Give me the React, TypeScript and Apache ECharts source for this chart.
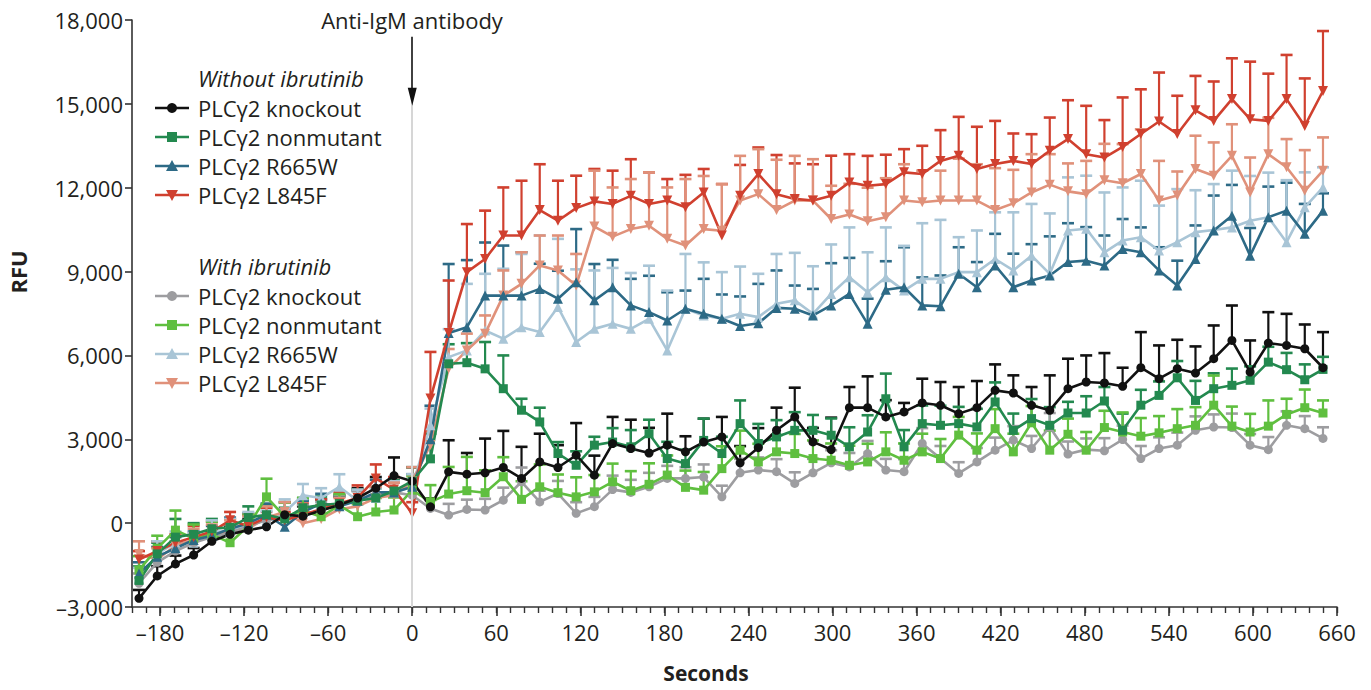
import React, { useEffect, useRef } from "react";
import * as echarts from "echarts";

// time after stimulation (seconds)
const SECONDS = [-195,-182,-169,-156,-143,-130,-117,-104,-91,-78,-65,-52,-39,-26,-13,0,13,26,39,52,65,78,91,104,117,130,143,156,169,182,195,208,221,234,247,260,273,286,299,312,325,338,351,364,377,390,403,416,429,442,455,468,481,494,507,520,533,546,559,572,585,598,611,624,637,650];

const X_TICKS = [-180,-120,-60,0,60,120,180,240,300,360,420,480,540,600,660];
const Y_TICKS = [-3000,0,3000,6000,9000,12000,15000,18000];

// Without ibrutinib
const KO_WITHOUT = [-2690,-1890,-1460,-1140,-650,-400,-250,-130,300,250,450,650,900,1250,1700,1500,
585,1835,1750,1800,1990,1600,2190,1990,2430,1715,2846,2670,2510,2790,2550,2900,3085,2157,2700,3323,3800,2907,2633,4132,4132,3800,3978,4300,4216,3918,4132,4751,4656,4216,4037,4810,5049,5013,4894,5560,5168,5525,5370,5882,6536,5406,6441,6358,6239,5560];
const KO_WITHOUT_ERR = [300,350,300,250,350,300,400,300,450,350,400,300,350,400,650,500,
300,1130,760,1225,1310,1130,1010,800,1150,700,954,1030,900,1127,558,838,715,600,700,809,1046,500,1142,738,1119,600,322,867,833,952,952,928,631,654,1250,1072,951,1071,666,1274,1190,1035,952,1190,1250,1130,1107,1130,868,1274];

const NM_WITHOUT = [-2050,-1100,-500,-400,-200,-150,200,300,150,550,650,700,800,900,1150,1500,
2300,5700,5740,5520,4810,4040,3620,2490,2070,2790,2900,2730,3200,2310,2130,2960,2490,3560,2850,3085,3320,3320,3145,2730,3260,4450,2730,3560,3500,3560,3440,4335,3320,3740,3500,3940,3940,4370,3320,4220,4570,5200,4390,4810,4930,5110,5760,5490,5130,5500];
const NM_WITHOUT_ERR = [500,400,650,400,350,300,400,350,400,350,300,300,400,350,400,500,
900,700,700,960,1190,410,510,410,500,300,500,600,500,600,500,780,600,830,700,600,650,550,600,700,600,900,600,650,700,600,650,700,600,700,650,400,600,500,600,550,500,600,700,550,600,500,550,600,550,450];

const R665W_WITHOUT = [-1800,-1200,-900,-600,-450,-200,0,300,-130,400,700,600,800,1100,1100,1300,
3000,6800,7010,8140,8140,8140,8380,8030,8620,7970,8440,7790,7550,7250,7670,7490,7310,7050,7150,7700,7670,7430,7790,8200,7130,8350,8440,7790,7760,8920,8440,9220,8440,8680,8860,9340,9390,9220,9810,9690,9040,8500,9450,10470,11000,9570,10940,11180,10350,11180];
const R665W_WITHOUT_ERR = [400,350,400,300,350,400,350,400,450,400,350,400,350,450,400,450,
1200,2470,2400,1900,1790,1550,900,1000,1900,1300,980,950,1300,1010,650,1250,870,1060,1410,1340,830,950,1510,1290,900,1020,1430,1000,1100,950,900,1130,1200,1300,1400,1390,1200,1070,1070,890,830,890,1200,1250,1100,990,1100,1000,1070,620];

const L845F_WITHOUT = [-1300,-1000,-700,-500,-300,100,-100,200,100,300,500,700,900,1600,1200,350,
4455,6800,8980,9450,10290,10290,11200,10820,11270,11510,11420,11710,11420,11540,11300,11830,10290,11715,12490,11770,11600,11540,11715,12190,12070,12130,12550,12490,12960,13140,12670,12850,12960,12845,13320,13740,13200,13080,13460,13920,14370,13920,14770,14390,15170,14450,14390,15170,14210,15460];
const L845F_WITHOUT_ERR = [300,350,300,400,350,300,400,350,300,400,350,400,450,500,450,400,
1670,1880,1720,1730,1720,1960,1640,1430,1160,1160,1190,1310,1130,770,1160,840,1840,1100,950,1400,1270,1300,1430,1010,1070,1050,830,1010,1100,1395,1510,1540,980,1070,1190,1390,1730,1340,1770,1600,1750,1370,1230,1410,1460,2060,1690,1580,1700,2145];

// With ibrutinib
const KO_WITH = [-2150,-1400,-1000,-700,-500,-350,-100,100,200,300,450,700,800,1000,1100,1000,
525,290,490,470,820,1480,760,1060,350,590,1200,1100,1300,1600,1600,1650,940,1800,1900,1840,1420,1800,2160,2010,2490,1900,1840,2850,2310,1780,2190,2610,2970,2670,3440,2470,2630,2590,2990,2310,2670,2790,3320,3440,3420,2790,2630,3500,3380,3030];
const KO_WITH_ERR = [350,300,350,300,250,300,350,300,300,350,300,300,350,300,350,400,
300,400,350,400,450,510,400,450,400,350,500,450,500,450,400,450,400,500,450,450,400,500,450,500,450,400,450,550,450,400,500,450,500,450,500,450,400,450,500,450,400,450,500,450,500,400,450,500,450,400];

const NM_WITH = [-1680,-900,-250,-550,-400,-700,-100,940,230,450,230,640,230,400,470,1180,
760,1040,1160,1090,1660,850,1300,1090,940,1120,1480,1160,1390,1720,1280,1180,1950,2610,2190,2550,2490,2310,2250,2070,2190,2550,2250,2550,2310,3150,2610,3380,2550,3590,2610,3180,2610,3420,3260,3110,3230,3380,3500,4220,3470,3260,3470,3890,4130,3940];
const NM_WITH_ERR = [500,450,700,500,450,500,400,650,500,450,400,400,450,500,450,500,
600,970,1210,800,700,650,800,650,700,600,650,700,750,700,600,650,800,700,650,600,700,650,600,700,650,700,600,650,700,650,600,700,650,600,700,560,650,600,700,650,600,700,650,1060,700,650,920,560,650,450];

const R665W_WITH = [-2000,-1100,-700,-700,-300,-300,0,100,400,1000,900,1300,800,900,1100,1300,
3500,5940,6180,6890,6600,7010,6840,7730,6480,6950,7130,6950,7310,6180,7670,7430,7310,7490,7370,7850,7970,7490,8200,8800,8260,8800,8320,8740,8740,8980,8980,9450,9040,9570,8920,10470,10530,9690,10110,10230,9750,10050,10410,10490,10580,10820,10940,10050,11300,12010];
const R665W_WITH_ERR = [400,450,400,350,400,450,400,350,450,400,350,450,400,350,400,450,
600,1000,2380,2030,2500,2620,3450,2440,2600,2090,2000,2000,1900,2140,1960,1900,1670,1690,1550,1780,1700,1700,1770,1780,1430,1780,1600,1990,2110,1250,1490,1670,2080,1850,2160,1900,1900,2140,1900,2020,1610,1900,1500,1640,2030,1600,1600,2220,1250,720];

const L845F_WITH = [-1100,-1300,-800,-600,-400,-300,-200,200,400,0,150,500,600,900,1000,1500,
2800,5530,6180,6780,8140,8560,9220,9040,8500,10610,10250,10520,10640,10170,9930,10520,10460,11540,11770,11200,11540,11540,10880,11040,10800,10940,11540,11480,11540,11540,11540,11200,11440,11830,12110,11870,11770,12270,12160,12490,11540,11720,12670,12430,13140,11830,13200,12730,11890,12610];
const L845F_WITH_ERR = [450,400,350,400,350,400,450,400,350,400,450,400,350,400,450,500,
500,700,600,650,900,1130,1070,1250,1130,2000,1760,1790,1910,1840,2380,1900,1670,1600,1610,1800,1600,1480,1190,1100,1200,1400,1300,1130,1070,1500,1300,1500,1200,1370,1090,1000,1190,1300,1400,1600,1420,860,1190,1190,1130,1250,1300,1010,1455,1190];

const FONT = '"Open Sans", "DejaVu Sans", sans-serif';
const TEXT = "#231f20";

type Def = {
  id: string;
  label: string;
  values: number[];
  errors: number[];
  color: string;
  symbol: string;
  rotate: number;
  size: number;
};

const DEFS: Def[] = [
  { id: "ko0", label: "PLC\u03b32 knockout", values: KO_WITHOUT, errors: KO_WITHOUT_ERR, color: "#111111", symbol: "circle", rotate: 0, size: 9 },
  { id: "nm0", label: "PLC\u03b32 nonmutant", values: NM_WITHOUT, errors: NM_WITHOUT_ERR, color: "#23894f", symbol: "rect", rotate: 0, size: 9 },
  { id: "r0", label: "PLC\u03b32 R665W", values: R665W_WITHOUT, errors: R665W_WITHOUT_ERR, color: "#2d6a86", symbol: "triangle", rotate: 0, size: 10 },
  { id: "l0", label: "PLC\u03b32 L845F", values: L845F_WITHOUT, errors: L845F_WITHOUT_ERR, color: "#d0402f", symbol: "triangle", rotate: 180, size: 10 },
  { id: "ko1", label: "PLC\u03b32 knockout", values: KO_WITH, errors: KO_WITH_ERR, color: "#9d9da0", symbol: "circle", rotate: 0, size: 9 },
  { id: "nm1", label: "PLC\u03b32 nonmutant", values: NM_WITH, errors: NM_WITH_ERR, color: "#5fbf3f", symbol: "rect", rotate: 0, size: 9 },
  { id: "r1", label: "PLC\u03b32 R665W", values: R665W_WITH, errors: R665W_WITH_ERR, color: "#a9c5d6", symbol: "triangle", rotate: 0, size: 10 },
  { id: "l1", label: "PLC\u03b32 L845F", values: L845F_WITH, errors: L845F_WITH_ERR, color: "#e0917a", symbol: "triangle", rotate: 180, size: 10 },
];

const ERROR_ORDER = ["ko0", "nm0", "r0", "l0", "ko1", "nm1", "r1", "l1"];
const LINE_ORDER = ["r1", "l1", "ko1", "nm1", "r0", "l0", "nm0", "ko0"];

function fmt(v: number): string {
  const s = Math.abs(v).toLocaleString("en-US");
  return v < 0 ? "\u2013" + s : s;
}

function legendSymbol(def: Def, cx: number, cy: number): any {
  const style = { fill: def.color };
  if (def.symbol === "circle") return { type: "circle", shape: { cx, cy, r: 5 }, style };
  if (def.symbol === "rect") return { type: "rect", shape: { x: cx - 5, y: cy - 5, width: 10, height: 10 }, style };
  if (def.rotate === 180)
    return { type: "polygon", shape: { points: [[cx, cy + 6], [cx - 6, cy - 5], [cx + 6, cy - 5]] }, style };
  return { type: "polygon", shape: { points: [[cx, cy - 6], [cx - 6, cy + 5], [cx + 6, cy + 5]] }, style };
}

function buildOption(): any {
  const byId: Record<string, Def> = {};
  DEFS.forEach((d) => (byId[d.id] = d));

  const errorSeries = ERROR_ORDER.map((id) => {
    const d = byId[id];
    return {
      type: "custom",
      name: d.id + "-err",
      xAxisIndex: 0,
      yAxisIndex: 0,
      z: 2,
      silent: true,
      data: d.values.map((v, i) => [SECONDS[i], v, d.errors[i]]),
      renderItem: (params: any, api: any) => {
        const x = api.value(0);
        const y = api.value(1);
        const e = api.value(2);
        const p0 = api.coord([x, y]);
        const p1 = api.coord([x, y + e]);
        return {
          type: "group",
          children: [
            { type: "line", shape: { x1: p0[0], y1: p0[1], x2: p1[0], y2: p1[1] }, style: { stroke: d.color, lineWidth: 2.2 } },
            { type: "line", shape: { x1: p1[0] - 6, y1: p1[1], x2: p1[0] + 6, y2: p1[1] }, style: { stroke: d.color, lineWidth: 2.6 } },
          ],
        };
      },
    };
  });

  const lineSeries: any[] = LINE_ORDER.map((id) => {
    const d = byId[id];
    return {
      type: "line",
      name: d.id,
      xAxisIndex: 0,
      yAxisIndex: 0,
      z: 3,
      data: d.values.map((v, i) => [SECONDS[i], v]),
      symbol: d.symbol,
      symbolRotate: d.rotate,
      symbolSize: d.size,
      showSymbol: true,
      lineStyle: { color: d.color, width: 2.6 },
      itemStyle: { color: d.color },
      emphasis: { disabled: true },
    };
  });

  // vertical reference line at time 0 and the stimulus arrow
  lineSeries[0].markLine = {
    silent: true,
    symbol: ["none", "none"],
    label: { show: false },
    lineStyle: { color: "#d6d6d6", width: 2, type: "solid" },
    data: [[{ coord: [0, -3000] }, { coord: [0, 15200] }]],
  };
  lineSeries[lineSeries.length - 1].markLine = {
    silent: true,
    symbol: ["none", "triangle"],
    symbolSize: [9, 18],
    label: { show: false },
    lineStyle: { color: "#111111", width: 1.6, type: "solid" },
    data: [[{ coord: [0, 17400] }, { coord: [0, 15250] }]],
  };

  // legend drawn as graphic
  const legendChildren: any[] = [];
  const groups = [
    { title: "Without ibrutinib", ids: ["ko0", "nm0", "r0", "l0"], top: 78 },
    { title: "With ibrutinib", ids: ["ko1", "nm1", "r1", "l1"], top: 266 },
  ];
  groups.forEach((g) => {
    legendChildren.push({
      type: "text",
      x: 198,
      y: g.top,
      style: { text: g.title, fill: TEXT, font: `italic 22px ${FONT}`, align: "left", verticalAlign: "middle" },
    });
    g.ids.forEach((id, i) => {
      const d = byId[id];
      const cy = g.top + 30 + i * 29;
      legendChildren.push({ type: "line", shape: { x1: 155, y1: cy, x2: 189, y2: cy }, style: { stroke: d.color, lineWidth: 2.6 } });
      legendChildren.push(legendSymbol(d, 172, cy));
      legendChildren.push({
        type: "text",
        x: 198,
        y: cy,
        style: { text: d.label, fill: TEXT, font: `22px ${FONT}`, align: "left", verticalAlign: "middle" },
      });
    });
  });

  return {
    animation: false,
    backgroundColor: "#ffffff",
    grid: { left: 132, right: 34, top: 20, bottom: 83, outerBoundsMode: "none" },
    xAxis: [
      {
        type: "value",
        min: -200,
        max: 660,
        position: "bottom",
        axisLine: { show: true, onZero: false, lineStyle: { color: "#333", width: 1.6 } },
        axisTick: { show: true, customValues: X_TICKS, length: 9, lineStyle: { color: "#333", width: 1.6 } },
        axisLabel: {
          customValues: X_TICKS,
          color: TEXT,
          fontSize: 22,
          fontFamily: FONT,
          margin: 14,
          formatter: (v: number) => fmt(v),
        },
        splitLine: { show: false },
      },
      {
        type: "value",
        min: -200,
        max: 660,
        interval: 10,
        position: "bottom",
        axisLine: { show: false, onZero: false },
        axisTick: { show: true, length: 6, lineStyle: { color: "#333", width: 1.4 } },
        axisLabel: { show: false },
        splitLine: { show: false },
      },
    ],
    yAxis: {
      type: "value",
      min: -3000,
      max: 18000,
      interval: 3000,
      axisLine: { show: true, onZero: false, lineStyle: { color: "#333", width: 1.6 } },
      axisTick: { show: true, customValues: Y_TICKS, length: 7, lineStyle: { color: "#333", width: 1.6 } },
      axisLabel: {
        customValues: Y_TICKS,
        color: TEXT,
        fontSize: 22,
        fontFamily: FONT,
        margin: 9,
        formatter: (v: number) => fmt(v),
      },
      splitLine: { show: false },
    },
    graphic: [
      {
        type: "text",
        x: 412,
        y: 20,
        style: { text: "Anti-IgM antibody", fill: TEXT, font: `22px ${FONT}`, align: "center", verticalAlign: "middle" },
      },
      {
        type: "text",
        x: 18,
        y: 272,
        rotation: Math.PI / 2,
        style: { text: "RFU", fill: TEXT, font: `bold 22px ${FONT}`, align: "center", verticalAlign: "middle" },
      },
      {
        type: "text",
        x: 706,
        y: 673,
        style: { text: "Seconds", fill: TEXT, font: `bold 21px ${FONT}`, align: "center", verticalAlign: "middle" },
      },
      { type: "group", children: legendChildren },
    ],
    series: [...errorSeries, ...lineSeries],
  };
}

export default function App() {
  const ref = useRef<HTMLDivElement>(null);
  useEffect(() => {
    if (!ref.current) return;
    const chart = echarts.init(ref.current, undefined, { renderer: "svg" });
    chart.setOption(buildOption());
    return () => chart.dispose();
  }, []);
  return (
    <div
      ref={ref}
      style={{ position: "fixed", left: 0, top: 0, width: 1371, height: 690, background: "#fff" }}
    />
  );
}
